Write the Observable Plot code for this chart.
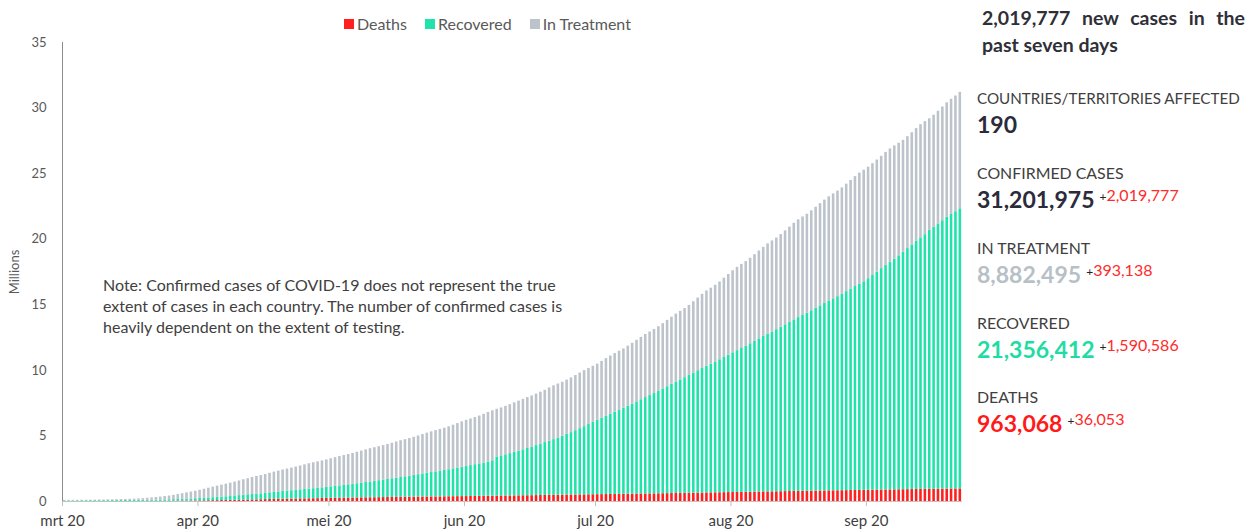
<!DOCTYPE html>
<html>
<head>
<meta charset="utf-8">
<script src="https://cdn.jsdelivr.net/npm/d3@7"></script>
<script src="https://cdn.jsdelivr.net/npm/@observablehq/plot@0.6"></script>
<style>
  html, body { margin: 0; padding: 0; background: #fff; }
  body { width: 1249px; height: 529px; position: relative; overflow: hidden; font-family: Lato, "Open Sans", sans-serif; }
  #chart { position: absolute; left: 0; top: 0; }
  #legend { position: absolute; left: 344px; top: 7px; }
  .lg-swatches { font-size: 16px !important; color: #595959 !important; font-family: Lato, sans-serif !important; }
  .lg-swatch { margin-right: 18px !important; }
  .lg-swatch > svg { margin-right: 3px !important; }
  #note { position: absolute; left: 103px; top: 274px; width: 500px; font-size: 16px; line-height: 21px; color: #404040; }
  .abs { position: absolute; left: 977px; white-space: nowrap; }
  #headline { left: 982px; top: 4px; width: 263px; font-size: 19.5px; font-weight: 700; line-height: 27px; color: #2f2f38; text-align: justify; text-align-last: left; white-space: normal; }
  .lab { font-size: 15.9px; line-height: 20px; color: #404040; }
  .lab.long { font-size: 15.2px; }
  .num { font-size: 23px; line-height: 28px; font-weight: 700; }
  .delta { font-size: 16px; font-weight: 400; color: #ff2a2a; position: relative; top: -7px; margin-left: 5px; }
  .delta b { color: #222; font-weight: 400; font-size: 12px; }
</style>
</head>
<body>
<div id="chart"></div>
<div id="legend"></div>
<div id="note">Note: Confirmed cases of COVID-19 does not represent the true extent of cases in each country. The number of confirmed cases is heavily dependent on the extent of testing.</div>
<div id="panel"></div>
<script>
// ---- data (thousands of people, cumulative, one value per day from 1 March 2020) ----
const startDate = "2020-03-01";
const confirmedK = [
  86, 88, 90, 93, 95, 98, 102, 106, 110, 114, 119, 126, 128, 146, 157, 168, 182, 198, 218, 246, 275, 305, 337, 378, 418, 468, 530, 594, 661, 720, 782,
  857, 933, 1013, 1096, 1176, 1249, 1322, 1396, 1480, 1565, 1657, 1735, 1835, 1905, 1976, 2056, 2152, 2240, 2317, 2401, 2472, 2549, 2624, 2708, 2795, 2881, 2955, 3023, 3097, 3172,
  3256, 3343, 3427, 3506, 3583, 3662, 3755, 3845, 3938, 4024, 4102, 4177, 4262, 4347, 4442, 4542, 4634, 4713, 4801, 4897, 5002, 5107, 5211, 5311, 5408, 5496, 5589, 5696, 5817, 5940, 6070,
  6188, 6287, 6397, 6520, 6651, 6786, 6916, 7030, 7133, 7252, 7384, 7522, 7655, 7790, 7924, 8049, 8193, 8335, 8475, 8657, 8823, 8955, 9093, 9258, 9426, 9605, 9796, 9984, 10146, 10306,
  10473, 10683, 10890, 11091, 11279, 11463, 11634, 11847, 12062, 12289, 12517, 12735, 12924, 13113, 13325, 13559, 13812, 14052, 14291, 14505, 14713, 14951, 15231, 15513, 15797, 16056, 16266, 16488, 16738, 17027, 17311,
  17596, 17854, 18081, 18292, 18549, 18820, 19102, 19380, 19645, 19870, 20088, 20352, 20637, 20922, 21216, 21478, 21696, 21904, 22163, 22441, 22713, 22981, 23236, 23454, 23672, 23914, 24199, 24477, 24773, 25043, 25263,
  25493, 25758, 26036, 26319, 26622, 26884, 27109, 27319, 27537, 27819, 28117, 28435, 28732, 28967, 29182, 29460, 29760, 30080, 30400, 30670, 30920, 31202
];
const recoveredK = [
  42, 44, 45, 48, 51, 53, 55, 57, 59, 61, 64, 66, 68, 70, 73, 75, 78, 81, 84, 87, 91, 96, 99, 104, 109, 117, 123, 132, 140, 151, 165,
  178, 194, 208, 226, 242, 257, 274, 298, 325, 347, 368, 394, 411, 431, 453, 480, 510, 540, 565, 590, 615, 640, 665, 690, 715, 740, 765, 790, 815, 845,
  875, 905, 940, 975, 1010, 1045, 1085, 1125, 1165, 1205, 1245, 1290, 1335, 1380, 1425, 1470, 1515, 1560, 1610, 1660, 1710, 1760, 1810, 1860, 1910, 1960, 2010, 2060, 2120, 2180, 2240,
  2300, 2360, 2420, 2480, 2540, 2610, 2700, 2980, 3060, 3140, 3230, 3320, 3410, 3500, 3600, 3700, 3810, 3920, 4030, 4140, 4250, 4370, 4500, 4630, 4760, 4900, 5050, 5200, 5360, 5520,
  5680, 5830, 5980, 6130, 6270, 6410, 6560, 6710, 6870, 7030, 7190, 7350, 7500, 7650, 7810, 7980, 8150, 8330, 8500, 8660, 8820, 8990, 9160, 9330, 9500, 9660, 9810, 9970, 10140, 10310, 10480,
  10650, 10810, 10970, 11140, 11320, 11500, 11680, 11860, 12030, 12190, 12360, 12540, 12720, 12900, 13080, 13250, 13410, 13580, 13760, 13940, 14120, 14300, 14480, 14640, 14800, 14980, 15170, 15360, 15550, 15730, 15900,
  16130, 16370, 16620, 16880, 17130, 17360, 17590, 17840, 18110, 18380, 18650, 18920, 19180, 19420, 19766, 19990, 20220, 20470, 20720, 20940, 21140, 21356
];
const deathsK = [
  3.0, 3.0, 3.1, 3.2, 3.3, 3.4, 3.5, 3.6, 3.8, 4.0, 4.3, 4.6, 5.4, 5.8, 6.4, 7.0, 7.9, 8.8, 9.9, 11.4, 13.0, 14.6, 16.5, 18.6, 21.2, 24.1, 27.3, 30.9, 34.6, 37.8, 42.1,
  47.2, 53.0, 58.8, 64.6, 69.4, 74.6, 82.1, 88.5, 95.8, 102.7, 108.5, 114.1, 119.5, 125.9, 134.2, 143.8, 153.8, 159.5, 165.1, 170.4, 178.0, 184.7, 191.1, 197.2, 203.0, 206.5, 210.6, 217.4, 228.0, 234.1,
  239.6, 245.3, 248.9, 253.0, 259.6, 266.6, 272.7, 277.5, 281.9, 284.9, 288.6, 294.0, 299.4, 304.4, 309.2, 314.1, 317.9, 321.4, 326.1, 331.0, 335.4, 340.3, 345.1, 348.4, 349.7, 352.2, 357.5, 362.4, 367.6, 372.0, 374.4,
  377.5, 381.5, 387.0, 392.2, 397.4, 402.0, 405.9, 409.4, 414.2, 419.1, 424.2, 429.1, 433.4, 437.5, 440.9, 445.0, 452.0, 457.2, 461.7, 467.8, 471.6, 475.6, 480.8, 487.3, 492.5, 499.3, 503.8, 507.0, 510.6, 516.2,
  521.0, 525.9, 531.5, 535.5, 538.9, 542.9, 548.7, 554.6, 560.0, 565.5, 570.8, 575.4, 579.2, 583.1, 588.8, 594.4, 600.3, 607.0, 612.1, 616.0, 620.0, 627.4, 634.5, 641.4, 647.5, 652.4, 656.7, 662.7, 669.2, 675.9, 682.1,
  688.0, 693.6, 697.6, 702.3, 709.0, 715.7, 722.0, 728.2, 733.6, 737.4, 742.2, 748.6, 754.8, 761.0, 767.1, 772.2, 776.2, 780.9, 787.3, 794.1, 800.2, 805.6, 810.8, 814.4, 818.8, 824.9, 831.3, 837.3, 843.1, 848.2, 852.0,
  856.7, 862.7, 869.6, 875.4, 881.1, 885.6, 890.5, 894.1, 899.3, 905.3, 911.1, 916.8, 922.1, 925.9, 927.0, 931.0, 937.0, 942.5, 948.5, 953.0, 957.5, 963.1
];
const seriesNames = ["Deaths", "Recovered", "In Treatment"];
const seriesColors = ["#ff1f1f", "#1fe3aa", "#bcc3cb"];
const monthLabels = ["mrt 20", "apr 20", "mei 20", "jun 20", "jul 20", "aug 20", "sep 20"];
const yTicks = [0, 5, 10, 15, 20, 25, 30, 35];
const headline = "2,019,777 new cases in the past seven days";
const panelLabels = ["COUNTRIES/TERRITORIES AFFECTED", "CONFIRMED CASES", "IN TREATMENT", "RECOVERED", "DEATHS"];
const panelValues = ["190", "31,201,975", "8,882,495", "21,356,412", "963,068"];
const panelDeltas = [null, "2,019,777", "393,138", "1,590,586", "36,053"];
const panelColors = ["#2b2b3b", "#2b2b3b", "#b7bfc7", "#1fdca4", "#ff1a1a"];

// ---- build table ----
const start = new Date(startDate + "T00:00:00Z");
const days = d3.utcDay.range(start, d3.utcDay.offset(start, confirmedK.length));
const rows = [];
days.forEach((d, i) => {
  rows.push({date: d, series: "Deaths", value: deathsK[i] / 1000});
  rows.push({date: d, series: "Recovered", value: recoveredK[i] / 1000});
  rows.push({date: d, series: "In Treatment", value: (confirmedK[i] - recoveredK[i] - deathsK[i]) / 1000});
});
const monthTicks = d3.utcMonth.range(start, d3.utcDay.offset(start, confirmedK.length));

const plot = Plot.plot({
  width: 970,
  height: 529,
  marginLeft: 62,
  marginRight: 8,
  marginTop: 42,
  marginBottom: 28,
  style: {fontFamily: "Lato, sans-serif", fontSize: "15px", color: "#595959", background: "transparent"},
  x: {type: "utc", domain: [start, d3.utcDay.offset(start, confirmedK.length)]},
  y: {domain: [0, 35]},
  color: {domain: seriesNames, range: seriesColors},
  marks: [
    Plot.rectY(rows, {x: "date", interval: d3.utcDay, y: "value", fill: "series", order: seriesNames, insetLeft: 0.9, insetRight: 0.9}),
    Plot.ruleY([0], {stroke: "#c4c4c4"}),
    Plot.ruleX([start], {stroke: "#8c8c8c"}),
    Plot.axisX({ticks: monthTicks, tickFormat: d => monthLabels[d.getUTCMonth() - 2], tickSize: 5, tickPadding: 9, stroke: "#bfbfbf", fill: "#404040", label: null}),
    Plot.axisY({ticks: yTicks, tickSize: 0, tickPadding: 16, fill: "#595959", label: "Millions", labelAnchor: "center", labelArrow: "none", labelOffset: 53, fontSize: 13})
  ]
});
document.getElementById("chart").appendChild(plot);

const lg = plot.legend("color", {swatchSize: 10, className: "lg"});
document.getElementById("legend").appendChild(lg);

// ---- right panel ----
const panel = document.getElementById("panel");
const h = document.createElement("div");
h.className = "abs";
h.id = "headline";
h.textContent = headline;
panel.appendChild(h);
const labTops = [88, 163, 238, 313, 387];
panelLabels.forEach((t, i) => {
  const l = document.createElement("div");
  l.className = "abs lab" + (i === 0 ? " long" : "");
  l.style.top = labTops[i] + "px";
  l.textContent = t;
  panel.appendChild(l);
  const n = document.createElement("div");
  n.className = "abs num";
  n.style.top = (labTops[i] + 22) + "px";
  n.style.color = panelColors[i];
  n.textContent = panelValues[i];
  if (panelDeltas[i]) {
    const s = document.createElement("span");
    s.className = "delta";
    s.innerHTML = "<b>+</b>" + panelDeltas[i];
    n.appendChild(s);
  }
  panel.appendChild(n);
});
</script>
</body>
</html>
